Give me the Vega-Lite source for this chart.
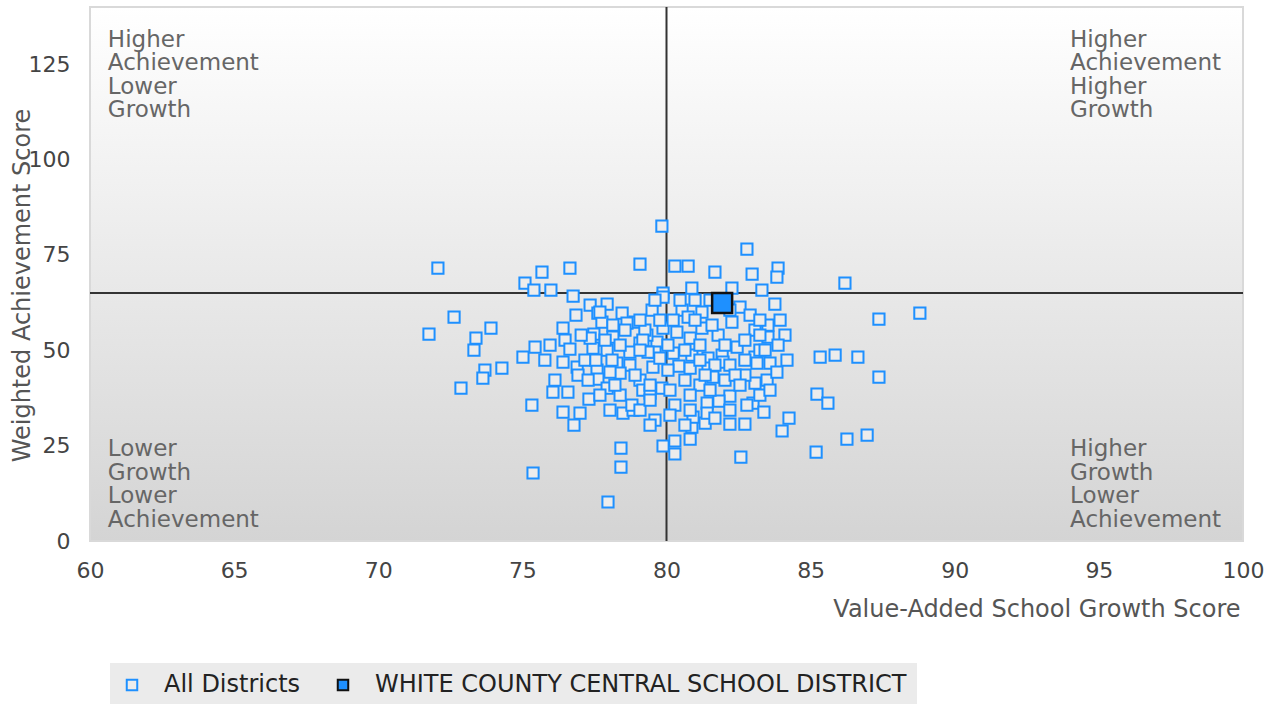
{
  "$schema": "https://vega.github.io/schema/vega-lite/v6.json",
  "width": 1153,
  "height": 534,
  "autosize": "none",
  "padding": {"left": 90, "top": 7, "right": 29, "bottom": 163},
  "background": "#ffffff",
  "config": {
    "font": "DejaVu Sans",
    "view": {"stroke": "#d9d9d9", "strokeWidth": 2, "fill": {"gradient": "linear", "x1": 0, "y1": 0, "x2": 0, "y2": 1, "stops": [{"offset": 0, "color": "#ffffff"}, {"offset": 1, "color": "#d4d4d4"}]}}
  },
  "datasets": {
    "pts": [
      {"x":79.84,"y":82.55,"s":"All Districts"},{"x":82.79,"y":76.52,"s":"All Districts"},{"x":72.07,"y":71.54,"s":"All Districts"},{"x":75.68,"y":70.49,"s":"All Districts"},{"x":76.65,"y":71.54,"s":"All Districts"},{"x":79.08,"y":72.59,"s":"All Districts"},{"x":80.29,"y":72.06,"s":"All Districts"},{"x":80.75,"y":72.06,"s":"All Districts"},{"x":81.68,"y":70.49,"s":"All Districts"},{"x":82.97,"y":69.97,"s":"All Districts"},{"x":83.87,"y":71.54,"s":"All Districts"},{"x":83.83,"y":69.18,"s":"All Districts"},{"x":86.19,"y":67.61,"s":"All Districts"},{"x":75.09,"y":67.61,"s":"All Districts"},{"x":75.40,"y":65.78,"s":"All Districts"},{"x":75.99,"y":65.78,"s":"All Districts"},{"x":76.76,"y":64.20,"s":"All Districts"},{"x":79.88,"y":64.99,"s":"All Districts"},{"x":80.88,"y":66.30,"s":"All Districts"},{"x":82.27,"y":66.30,"s":"All Districts"},{"x":83.31,"y":65.78,"s":"All Districts"},{"x":83.76,"y":62.11,"s":"All Districts"},{"x":88.79,"y":59.75,"s":"All Districts"},{"x":87.37,"y":58.18,"s":"All Districts"},{"x":72.63,"y":58.70,"s":"All Districts"},{"x":71.76,"y":54.25,"s":"All Districts"},{"x":73.91,"y":55.82,"s":"All Districts"},{"x":73.39,"y":53.20,"s":"All Districts"},{"x":73.32,"y":50.05,"s":"All Districts"},{"x":75.02,"y":48.22,"s":"All Districts"},{"x":75.44,"y":50.84,"s":"All Districts"},{"x":75.96,"y":51.36,"s":"All Districts"},{"x":74.29,"y":45.34,"s":"All Districts"},{"x":73.70,"y":44.81,"s":"All Districts"},{"x":73.63,"y":42.71,"s":"All Districts"},{"x":72.87,"y":40.09,"s":"All Districts"},{"x":75.33,"y":35.64,"s":"All Districts"},{"x":76.06,"y":39.05,"s":"All Districts"},{"x":76.41,"y":33.81,"s":"All Districts"},{"x":77.00,"y":33.54,"s":"All Districts"},{"x":76.79,"y":30.40,"s":"All Districts"},{"x":77.31,"y":37.21,"s":"All Districts"},{"x":75.37,"y":17.82,"s":"All Districts"},{"x":77.97,"y":10.22,"s":"All Districts"},{"x":78.42,"y":24.37,"s":"All Districts"},{"x":78.42,"y":19.39,"s":"All Districts"},{"x":79.88,"y":24.90,"s":"All Districts"},{"x":80.29,"y":22.80,"s":"All Districts"},{"x":80.29,"y":26.21,"s":"All Districts"},{"x":80.82,"y":26.73,"s":"All Districts"},{"x":81.34,"y":30.92,"s":"All Districts"},{"x":80.88,"y":29.87,"s":"All Districts"},{"x":82.20,"y":30.66,"s":"All Districts"},{"x":82.72,"y":30.66,"s":"All Districts"},{"x":82.58,"y":22.01,"s":"All Districts"},{"x":84.01,"y":28.83,"s":"All Districts"},{"x":84.25,"y":32.23,"s":"All Districts"},{"x":85.19,"y":23.32,"s":"All Districts"},{"x":86.26,"y":26.73,"s":"All Districts"},{"x":86.96,"y":27.78,"s":"All Districts"},{"x":85.22,"y":38.52,"s":"All Districts"},{"x":85.60,"y":36.16,"s":"All Districts"},{"x":87.37,"y":42.98,"s":"All Districts"},{"x":86.64,"y":48.22,"s":"All Districts"},{"x":85.33,"y":48.22,"s":"All Districts"},{"x":85.85,"y":48.74,"s":"All Districts"},
      {"x":77.35,"y":61.84,"s":"All Districts"},{"x":77.94,"y":62.11,"s":"All Districts"},{"x":77.62,"y":59.75,"s":"All Districts"},{"x":78.46,"y":59.75,"s":"All Districts"},{"x":78.91,"y":57.39,"s":"All Districts"},{"x":77.76,"y":57.39,"s":"All Districts"},{"x":76.41,"y":55.82,"s":"All Districts"},{"x":76.48,"y":52.67,"s":"All Districts"},{"x":77.48,"y":54.25,"s":"All Districts"},{"x":78.14,"y":53.46,"s":"All Districts"},{"x":79.08,"y":51.89,"s":"All Districts"},{"x":79.67,"y":52.15,"s":"All Districts"},{"x":76.65,"y":50.31,"s":"All Districts"},{"x":77.45,"y":50.58,"s":"All Districts"},{"x":77.94,"y":50.05,"s":"All Districts"},{"x":78.73,"y":49.53,"s":"All Districts"},{"x":79.60,"y":49.53,"s":"All Districts"},{"x":79.88,"y":55.82,"s":"All Districts"},{"x":79.88,"y":63.94,"s":"All Districts"},{"x":76.41,"y":46.91,"s":"All Districts"},{"x":76.90,"y":45.60,"s":"All Districts"},{"x":76.93,"y":43.50,"s":"All Districts"},{"x":77.59,"y":44.81,"s":"All Districts"},{"x":77.62,"y":42.45,"s":"All Districts"},{"x":77.94,"y":40.09,"s":"All Districts"},{"x":78.39,"y":38.26,"s":"All Districts"},{"x":78.49,"y":33.54,"s":"All Districts"},{"x":78.84,"y":34.33,"s":"All Districts"},{"x":78.80,"y":35.64,"s":"All Districts"},{"x":78.28,"y":46.65,"s":"All Districts"},{"x":78.73,"y":46.12,"s":"All Districts"},{"x":79.08,"y":42.19,"s":"All Districts"},{"x":79.53,"y":45.60,"s":"All Districts"},{"x":79.84,"y":40.09,"s":"All Districts"},{"x":79.18,"y":39.57,"s":"All Districts"},{"x":79.43,"y":38.78,"s":"All Districts"},{"x":79.08,"y":34.33,"s":"All Districts"},{"x":78.39,"y":44.03,"s":"All Districts"},{"x":78.14,"y":56.60,"s":"All Districts"},{"x":78.63,"y":57.13,"s":"All Districts"},{"x":79.32,"y":53.98,"s":"All Districts"},{"x":77.35,"y":53.20,"s":"All Districts"},{"x":79.77,"y":47.96,"s":"All Districts"},{"x":79.43,"y":40.88,"s":"All Districts"},{"x":77.17,"y":47.43,"s":"All Districts"},{"x":78.11,"y":47.43,"s":"All Districts"},{"x":77.69,"y":38.26,"s":"All Districts"},{"x":78.21,"y":40.88,"s":"All Districts"},{"x":79.60,"y":31.71,"s":"All Districts"},{"x":79.25,"y":55.29,"s":"All Districts"},{"x":77.69,"y":60.01,"s":"All Districts"},{"x":77.55,"y":47.43,"s":"All Districts"},{"x":75.78,"y":47.43,"s":"All Districts"},{"x":76.13,"y":42.19,"s":"All Districts"},{"x":76.58,"y":39.05,"s":"All Districts"},{"x":78.04,"y":34.33,"s":"All Districts"},{"x":79.43,"y":30.40,"s":"All Districts"},{"x":79.50,"y":60.53,"s":"All Districts"},{"x":79.08,"y":57.91,"s":"All Districts"},{"x":79.18,"y":52.67,"s":"All Districts"},
      {"x":82.55,"y":61.32,"s":"All Districts"},{"x":82.90,"y":59.22,"s":"All Districts"},{"x":82.27,"y":57.39,"s":"All Districts"},{"x":83.07,"y":55.29,"s":"All Districts"},{"x":83.52,"y":56.60,"s":"All Districts"},{"x":84.11,"y":53.98,"s":"All Districts"},{"x":83.52,"y":53.46,"s":"All Districts"},{"x":83.87,"y":51.36,"s":"All Districts"},{"x":80.54,"y":60.53,"s":"All Districts"},{"x":81.23,"y":60.01,"s":"All Districts"},{"x":80.23,"y":57.91,"s":"All Districts"},{"x":80.75,"y":58.70,"s":"All Districts"},{"x":81.23,"y":55.82,"s":"All Districts"},{"x":80.36,"y":54.77,"s":"All Districts"},{"x":81.79,"y":53.98,"s":"All Districts"},{"x":80.82,"y":53.20,"s":"All Districts"},{"x":81.93,"y":48.74,"s":"All Districts"},{"x":82.45,"y":50.84,"s":"All Districts"},{"x":80.23,"y":49.27,"s":"All Districts"},{"x":80.88,"y":48.74,"s":"All Districts"},{"x":81.44,"y":47.96,"s":"All Districts"},{"x":83.07,"y":48.22,"s":"All Districts"},{"x":83.59,"y":46.65,"s":"All Districts"},{"x":84.18,"y":47.43,"s":"All Districts"},{"x":80.43,"y":45.86,"s":"All Districts"},{"x":80.82,"y":45.34,"s":"All Districts"},{"x":81.44,"y":45.34,"s":"All Districts"},{"x":81.96,"y":46.91,"s":"All Districts"},{"x":83.14,"y":46.65,"s":"All Districts"},{"x":81.61,"y":42.98,"s":"All Districts"},{"x":80.64,"y":42.19,"s":"All Districts"},{"x":83.07,"y":41.40,"s":"All Districts"},{"x":83.49,"y":42.19,"s":"All Districts"},{"x":83.83,"y":44.29,"s":"All Districts"},{"x":82.20,"y":38.00,"s":"All Districts"},{"x":83.00,"y":36.16,"s":"All Districts"},{"x":82.79,"y":35.64,"s":"All Districts"},{"x":83.38,"y":33.81,"s":"All Districts"},{"x":81.82,"y":36.69,"s":"All Districts"},{"x":81.41,"y":36.16,"s":"All Districts"},{"x":80.29,"y":35.64,"s":"All Districts"},{"x":80.92,"y":32.49,"s":"All Districts"},{"x":81.41,"y":33.54,"s":"All Districts"},{"x":80.05,"y":44.81,"s":"All Districts"},{"x":81.16,"y":51.36,"s":"All Districts"},{"x":82.72,"y":52.67,"s":"All Districts"},{"x":82.20,"y":46.12,"s":"All Districts"},{"x":82.72,"y":43.50,"s":"All Districts"},{"x":81.16,"y":40.88,"s":"All Districts"},{"x":80.82,"y":38.26,"s":"All Districts"},{"x":81.51,"y":39.57,"s":"All Districts"},{"x":82.03,"y":42.19,"s":"All Districts"},{"x":80.47,"y":63.16,"s":"All Districts"},{"x":81.51,"y":63.16,"s":"All Districts"},{"x":82.38,"y":43.50,"s":"All Districts"},{"x":83.24,"y":38.26,"s":"All Districts"},{"x":81.68,"y":32.23,"s":"All Districts"},{"x":80.64,"y":30.40,"s":"All Districts"},{"x":80.05,"y":51.36,"s":"All Districts"},{"x":79.77,"y":57.91,"s":"All Districts"},{"x":83.24,"y":50.05,"s":"All Districts"},
      {"x":78.56,"y":55.29,"s":"All Districts"},{"x":77.87,"y":52.67,"s":"All Districts"},{"x":79.36,"y":49.53,"s":"All Districts"},{"x":78.91,"y":43.50,"s":"All Districts"},{"x":78.04,"y":44.29,"s":"All Districts"},{"x":77.28,"y":42.19,"s":"All Districts"},{"x":79.43,"y":36.95,"s":"All Districts"},{"x":80.12,"y":33.02,"s":"All Districts"},{"x":80.99,"y":57.91,"s":"All Districts"},{"x":81.58,"y":56.60,"s":"All Districts"},{"x":82.03,"y":51.36,"s":"All Districts"},{"x":81.16,"y":47.43,"s":"All Districts"},{"x":81.68,"y":46.12,"s":"All Districts"},{"x":82.72,"y":47.43,"s":"All Districts"},{"x":82.55,"y":40.88,"s":"All Districts"},{"x":83.59,"y":39.57,"s":"All Districts"},{"x":83.42,"y":50.05,"s":"All Districts"},{"x":80.82,"y":34.33,"s":"All Districts"},{"x":82.20,"y":34.33,"s":"All Districts"},{"x":80.64,"y":50.05,"s":"All Districts"},{"x":80.12,"y":39.57,"s":"All Districts"},{"x":79.08,"y":50.05,"s":"All Districts"},{"x":78.39,"y":51.36,"s":"All Districts"},{"x":77.04,"y":53.98,"s":"All Districts"},{"x":76.86,"y":59.22,"s":"All Districts"},{"x":83.24,"y":57.91,"s":"All Districts"},{"x":83.94,"y":57.91,"s":"All Districts"},{"x":82.20,"y":60.53,"s":"All Districts"},{"x":80.99,"y":63.16,"s":"All Districts"},{"x":79.60,"y":63.16,"s":"All Districts"},{"x":83.24,"y":53.98,"s":"All Districts"},{"x":81.34,"y":43.50,"s":"All Districts"},
      {"x":81.93,"y":62.37,"s":"WHITE COUNTY CENTRAL SCHOOL DISTRICT"}
    ],
    "quads": [
      {"x":60.62,"y":134.3,"label":"Higher\nAchievement\nLower\nGrowth"},
      {"x":94.0,"y":134.3,"label":"Higher\nAchievement\nHigher\nGrowth"},
      {"x":60.62,"y":27.0,"label":"Lower\nGrowth\nLower\nAchievement"},
      {"x":94.0,"y":27.0,"label":"Higher\nGrowth\nLower\nAchievement"}
    ],
    "refs": [{"gx": 80, "gy": 65}]
  },
  "layer": [
    {
      "data": {"name": "quads"},
      "mark": {"type": "text", "align": "left", "baseline": "top", "fontSize": 23, "lineHeight": 23.5, "lineBreak": "\n", "color": "#666666"},
      "encoding": {
        "x": {"field": "x", "type": "quantitative", "scale": {"domain": [60, 100], "nice": false, "zero": false},
          "axis": {"title": "Value-Added School Growth Score", "values": [60,65,70,75,80,85,90,95,100], "grid": false, "domain": false, "ticks": false, "tickSize": 0, "labelFlush": false, "labelPadding": 19, "labelFontSize": 22, "labelColor": "#444444", "labelBaseline": "top",
            "titleFontSize": 24, "titleFontWeight": "normal", "titleColor": "#555555", "titleAnchor": "end", "titleAlign": "right", "titleX": 1150, "titleY": 75, "titleBaseline": "alphabetic"}},
        "y": {"field": "y", "type": "quantitative", "scale": {"domain": [0, 140], "nice": false},
          "axis": {"title": "Weighted Achievement Score", "values": [0,25,50,75,100,125], "grid": false, "domain": false, "ticks": false, "tickSize": 0, "labelFlush": false, "labelPadding": 20, "labelFontSize": 22, "labelColor": "#444444",
            "titleFontSize": 24, "titleFontWeight": "normal", "titleColor": "#555555", "titleAngle": -90, "titleAlign": "center", "titleBaseline": "middle", "titleX": -68, "titleY": 278}},
        "text": {"field": "label"}
      }
    },
    {
      "data": {"name": "refs"},
      "mark": {"type": "rule", "color": "#333333", "strokeWidth": 2},
      "encoding": {"x": {"field": "gx", "type": "quantitative"}}
    },
    {
      "data": {"name": "refs"},
      "mark": {"type": "rule", "color": "#333333", "strokeWidth": 2},
      "encoding": {"y": {"field": "gy", "type": "quantitative"}}
    },
    {
      "data": {"name": "pts"},
      "transform": [{"filter": "datum.s === 'All Districts'"}],
      "mark": {"type": "point", "shape": "square", "size": 125, "strokeWidth": 2, "opacity": 1, "fillOpacity": 1},
      "encoding": {
        "x": {"field": "x", "type": "quantitative"},
        "y": {"field": "y", "type": "quantitative"},
        "fill": {"field": "s", "type": "nominal", "title": null, "scale": {"domain": ["All Districts", "WHITE COUNTY CENTRAL SCHOOL DISTRICT"], "range": ["#ececec", "#1e90ff"]},
          "legend": {"orient": "none", "legendX": 20, "legendY": 656, "direction": "horizontal", "fillColor": "#ebebeb", "padding": 10, "symbolType": "square", "symbolSize": 110, "symbolStrokeWidth": 2, "labelFontSize": 24, "labelColor": "#222222", "labelOffset": 20, "columnPadding": 30, "labelLimit": 800}},
        "stroke": {"field": "s", "type": "nominal", "title": null, "scale": {"domain": ["All Districts", "WHITE COUNTY CENTRAL SCHOOL DISTRICT"], "range": ["#1e90ff", "#111111"]},
          "legend": {"orient": "none", "legendX": 20, "legendY": 656, "direction": "horizontal", "fillColor": "#ebebeb", "padding": 10, "symbolType": "square", "symbolSize": 110, "symbolStrokeWidth": 2, "labelFontSize": 24, "labelColor": "#222222", "labelOffset": 20, "columnPadding": 30, "labelLimit": 800}}
      }
    },
    {
      "data": {"name": "pts"},
      "transform": [{"filter": "datum.s !== 'All Districts'"}],
      "mark": {"type": "point", "shape": "square", "size": 400, "strokeWidth": 2.5, "opacity": 1, "fillOpacity": 1},
      "encoding": {
        "x": {"field": "x", "type": "quantitative"},
        "y": {"field": "y", "type": "quantitative"},
        "fill": {"field": "s", "type": "nominal", "title": null},
        "stroke": {"field": "s", "type": "nominal", "title": null}
      }
    }
  ]
}
